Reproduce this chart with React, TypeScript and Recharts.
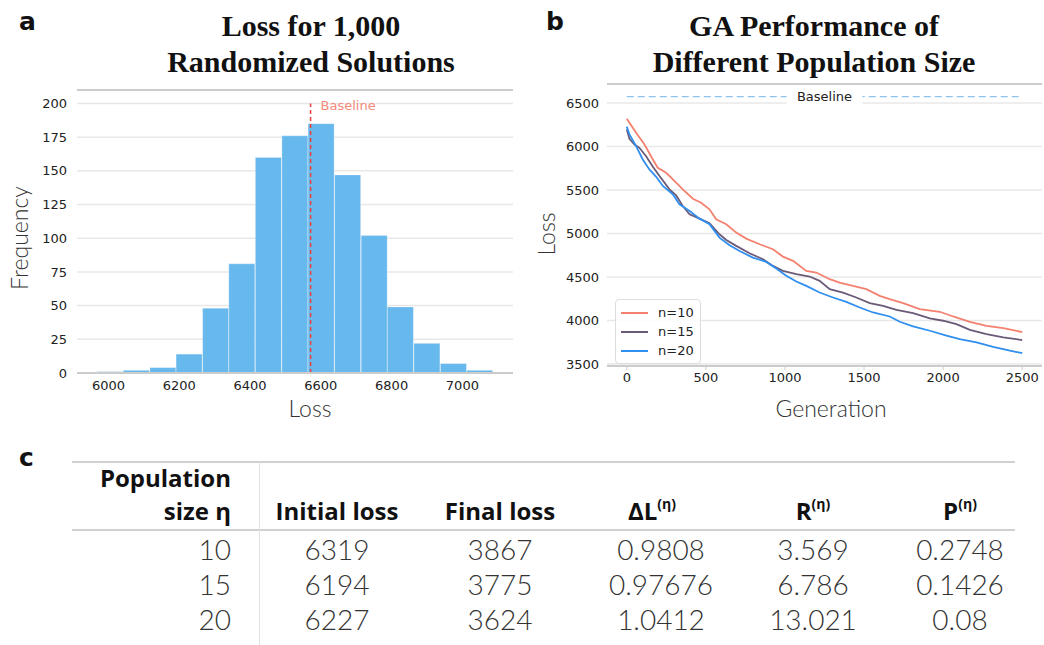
import React from 'react'
import {
  BarChart, Bar, LineChart, Line, XAxis, YAxis, CartesianGrid, ReferenceLine, Legend,
} from 'recharts'

// panel a: histogram of 1,000 random solutions
const binCenters = [6004, 6079, 6154, 6228, 6303, 6377, 6452, 6527, 6601, 6676, 6751, 6825, 6900, 6975, 7049]
const binCounts = [1, 2, 4, 14, 48, 81, 160, 176, 185, 147, 102, 49, 22, 7, 2]
const baselineLoss = 6571
const freqTicks = [0, 25, 50, 75, 100, 125, 150, 175, 200]
const lossTicks = [6000, 6200, 6400, 6600, 6800, 7000]

// panel b: GA loss per generation
const gen10 = [0, 17, 59, 112, 165, 196, 249, 312, 354, 418, 470, 523, 565, 629, 692, 755, 840, 924, 987, 1051, 1135, 1198, 1283, 1346, 1430, 1515, 1599, 1662, 1747, 1852, 1979, 2063, 2169, 2274, 2380, 2500]
const loss10 = [6319, 6271, 6156, 6022, 5850, 5755, 5697, 5583, 5506, 5399, 5353, 5277, 5162, 5105, 5010, 4941, 4876, 4818, 4734, 4685, 4570, 4551, 4474, 4436, 4398, 4360, 4283, 4245, 4199, 4130, 4100, 4046, 3985, 3939, 3912, 3867]
const gen15 = [0, 17, 49, 80, 122, 165, 207, 270, 312, 354, 397, 460, 523, 586, 629, 692, 776, 861, 924, 987, 1072, 1156, 1219, 1283, 1367, 1451, 1536, 1620, 1705, 1810, 1916, 2000, 2084, 2169, 2274, 2380, 2500]
const loss15 = [6194, 6087, 6022, 5984, 5888, 5766, 5659, 5506, 5437, 5315, 5220, 5170, 5116, 4990, 4925, 4857, 4772, 4704, 4627, 4570, 4532, 4505, 4455, 4360, 4321, 4264, 4199, 4169, 4123, 4085, 4023, 3997, 3958, 3893, 3844, 3806, 3775]
const gen20 = [0, 17, 59, 101, 143, 186, 228, 291, 333, 397, 460, 523, 586, 650, 713, 797, 882, 945, 1008, 1072, 1135, 1219, 1304, 1388, 1473, 1557, 1662, 1726, 1810, 1916, 2021, 2105, 2211, 2316, 2422, 2500]
const loss20 = [6227, 6137, 6003, 5850, 5736, 5651, 5545, 5449, 5334, 5258, 5170, 5105, 4952, 4864, 4799, 4723, 4673, 4597, 4513, 4448, 4398, 4321, 4264, 4214, 4149, 4092, 4046, 3985, 3932, 3882, 3825, 3786, 3748, 3698, 3653, 3624]
const genTicks = [0, 500, 1000, 1500, 2000, 2500]
const gaLossTicks = [3500, 4000, 4500, 5000, 5500, 6000, 6500]

// panel c: table
const popSizes = ['10', '15', '20']
const initialLoss = ['6319', '6194', '6227']
const finalLoss = ['3867', '3775', '3624']
const deltaL = ['0.9808', '0.97676', '1.0412']
const rValues = ['3.569', '6.786', '13.021']
const pValues = ['0.2748', '0.1426', '0.08']

const histData = binCenters.map((c, i) => ({ loss: c, count: binCounts[i] }))
const toSeries = (g: number[], v: number[]) => g.map((x, i) => ({ gen: x, loss: v[i] }))
const series = [
  { name: 'n=10', color: '#f4806f', data: toSeries(gen10, loss10) },
  { name: 'n=15', color: '#6b5a78', data: toSeries(gen15, loss15) },
  { name: 'n=20', color: '#2f8ff0', data: toSeries(gen20, loss20) },
]

const tick = { fill: '#222', fontSize: 13, fontFamily: 'DejaVu Sans' }
const spine = '#cccccc'

function GaLegend(props: any) {
  const items = props.payload || []
  return (
    <div style={{
      background: 'rgba(255,255,255,0.85)', border: '1px solid #dddddd', borderRadius: 4,
      padding: '3px 6px 3px 5px', fontFamily: 'DejaVu Sans', fontSize: 13, color: '#222',
    }}>
      {items.map((it: any) => (
        <div key={it.value} style={{ display: 'flex', alignItems: 'center', height: 19 }}>
          <span style={{ display: 'inline-block', width: 27, height: 2, background: it.color, marginRight: 10 }} />
          <span>{it.value}</span>
        </div>
      ))}
    </div>
  )
}

const serif = 'Liberation Serif, serif'
const light = 'Lato, sans-serif'
const head = 'Open Sans, sans-serif'

const colCenters = [337, 500, 661, 813, 960]
const headCenters = [337, 500, 652, 813, 960]
const rowY = [560, 595, 630]

export default function App() {
  const cols = [initialLoss, finalLoss, deltaL, rValues, pValues]
  return (
    <div style={{ position: 'absolute', left: 0, top: 0, width: 1044, height: 645, background: '#fff', overflow: 'hidden' }}>
      <div style={{ position: 'absolute', left: 0, top: 80 }}>
        <BarChart width={520} height={345} data={histData} barCategoryGap={0}
          margin={{ top: 10, right: 7, left: 17, bottom: 22 }}>
          <CartesianGrid vertical={false} stroke="#e8e8e8" strokeWidth={1.5} />
          <XAxis dataKey="loss" type="number" domain={[5911, 7143]} ticks={lossTicks} height={30}
            tick={tick} tickLine={false} axisLine={{ stroke: spine, strokeWidth: 2 }} />
          <YAxis type="number" domain={[0, 210]} ticks={freqTicks} width={60} tick={tick}
            tickLine={false} axisLine={false} tickMargin={4} />
          <ReferenceLine y={210} stroke={spine} strokeWidth={2} />
          <Bar dataKey="count" fill="#67b8ec" stroke="#ffffff" strokeOpacity={0.35} strokeWidth={0.8}
            isAnimationActive={false} />
          <ReferenceLine segment={[{ x: baselineLoss, y: 0 }, { x: baselineLoss, y: 200 }]}
            stroke="#e8403a" strokeWidth={1.5} strokeDasharray="4 3"
            label={(p: any) => (
              <text x={p.viewBox.x + 10} y={p.viewBox.y + 7} fill="#f48a7c" fontSize={13} fontFamily="DejaVu Sans">Baseline</text>
            )} />
        </BarChart>
      </div>

      <div style={{ position: 'absolute', left: 520, top: 70 }}>
        <LineChart width={524} height={355} margin={{ top: 14, right: 2, left: 27, bottom: 29 }}>
          <CartesianGrid vertical={false} stroke="#e8e8e8" strokeWidth={1.5} />
          <XAxis dataKey="gen" type="number" domain={[-125, 2625]} ticks={genTicks} height={30}
            tick={tick} tickSize={4} tickMargin={3} tickLine={{ stroke: spine }} axisLine={{ stroke: spine, strokeWidth: 2 }}
            allowDuplicatedCategory={false} />
          <YAxis type="number" domain={[3477, 6717]} ticks={gaLossTicks} width={60} tick={tick}
            tickLine={false} axisLine={false} />
          <ReferenceLine y={6717} stroke={spine} strokeWidth={2} />
          <ReferenceLine segment={[{ x: 0, y: baselineLoss }, { x: 2500, y: baselineLoss }]}
            stroke="#8ec3ee" strokeWidth={1.2} strokeDasharray="7 4"
            label={(p: any) => {
              const cx = p.viewBox.x + p.viewBox.width / 2
              return (
                <g>
                  <rect x={cx - 38} y={p.viewBox.y - 8} width={76} height={16} fill="#fff" />
                  <text x={cx} y={p.viewBox.y + 4.5} textAnchor="middle" fill="#222" fontSize={13} fontFamily="DejaVu Sans">Baseline</text>
                </g>
              )
            }} />
          {series.map(s => (
            <Line key={s.name} data={s.data} dataKey="loss" name={s.name} stroke={s.color}
              strokeWidth={1.8} dot={false} type="linear" isAnimationActive={false} />
          ))}
          <Legend content={GaLegend} layout="horizontal" align="center" verticalAlign="middle"
            wrapperStyle={{ left: 95, top: 229, width: 'auto' }} />
        </LineChart>
      </div>

      <svg width={1044} height={645} style={{ position: 'absolute', left: 0, top: 0, pointerEvents: 'none' }}>
        <g fontFamily="DejaVu Sans" fontWeight="bold" fontSize={25} fill="#111">
          <text x={19} y={30}>a</text>
          <text x={546} y={30}>b</text>
          <text x={19} y={466}>c</text>
        </g>
        <g fontFamily={serif} fontWeight="bold" fontSize={30} fill="#111" textAnchor="middle">
          <text x={311} y={36}>Loss for 1,000</text>
          <text x={311} y={72}>Randomized Solutions</text>
          <text x={814} y={36}>GA Performance of</text>
          <text x={814} y={72}>Different Population Size</text>
        </g>
        <g fontFamily={light} fontWeight={300} fontSize={23} fill="#333" textAnchor="middle">
          <text transform="translate(28,238) rotate(-90)">Frequency</text>
          <text x={310} y={417}>Loss</text>
          <text transform="translate(555,234) rotate(-90)">Loss</text>
          <text x={831} y={417}>Generation</text>
        </g>

        <line x1={72} x2={1015} y1={462} y2={462} stroke="#d0d0d0" strokeWidth={2} />
        <line x1={72} x2={1015} y1={530} y2={530} stroke="#d0d0d0" strokeWidth={2} />
        <line x1={259.5} x2={259.5} y1={462} y2={645} stroke="#e2e2e2" strokeWidth={1} />
        <g fontFamily={head} fontWeight="bold" fontSize={24} fill="#111">
          <text x={231} y={487} textAnchor="end">Population</text>
          <text x={231} y={520} textAnchor="end">size η</text>
          <text x={headCenters[0]} y={520} textAnchor="middle">Initial loss</text>
          <text x={headCenters[1]} y={520} textAnchor="middle">Final loss</text>
          <text x={headCenters[2]} y={520} textAnchor="middle">ΔL<tspan fontSize={14} dy={-11}>(η)</tspan></text>
          <text x={headCenters[3]} y={520} textAnchor="middle">R<tspan fontSize={14} dy={-11}>(η)</tspan></text>
          <text x={headCenters[4]} y={520} textAnchor="middle">P<tspan fontSize={14} dy={-11}>(η)</tspan></text>
        </g>
        <g fontFamily={light} fontWeight={300} fontSize={28} fill="#333">
          {popSizes.map((p, r) => (
            <text key={'p' + r} x={231} y={rowY[r]} textAnchor="end">{p}</text>
          ))}
          {cols.map((col, c) => col.map((v, r) => (
            <text key={c + '-' + r} x={colCenters[c]} y={rowY[r]} textAnchor="middle">{v}</text>
          )))}
        </g>
      </svg>
    </div>
  )
}
